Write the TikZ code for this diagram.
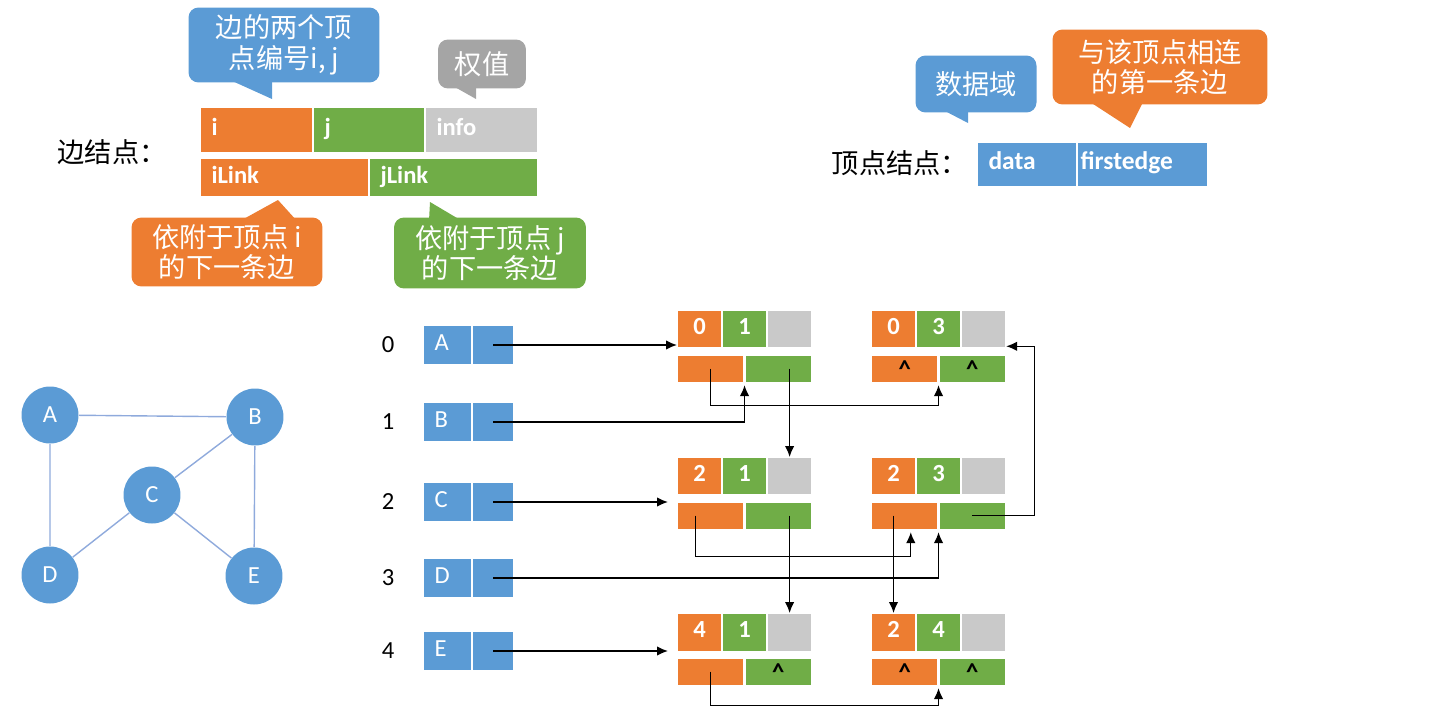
\documentclass[tikz,border=0pt]{standalone}
\usepackage{fontspec}
\setmainfont{Carlito}
\newfontfamily\cjk{Noto Sans CJK SC}
\usepackage{xcolor}
\definecolor{nodeblue}{RGB}{91,155,213}
\definecolor{iorange}{RGB}{237,125,49}
\definecolor{jgreen}{RGB}{112,173,71}
\definecolor{infogray}{RGB}{201,201,201}
\definecolor{tipgray}{RGB}{165,165,165}
\definecolor{graphline}{RGB}{143,170,220}
\usepackage{tikz}
\usetikzlibrary{arrows.meta,positioning,calc}

% one edge node of the multilist: i | j | info over ilink | jlink
\newcommand{\edgenode}[6]{%
  \node[scell, fill=iorange, anchor=north west] (#1i) at (#2) {#3};
  \node[scell, fill=jgreen, right=0pt of #1i] (#1j) {#4};
  \node[scell, fill=infogray, right=0pt of #1j] (#1w) {};
  \node[lcell, fill=iorange, anchor=north west] (#1l) at ($(#1i.south west)+(0,6)$) {#5};
  \node[lcell, fill=jgreen, right=0pt of #1l] (#1r) {#6};
}
\newcommand{\nilmark}{\raisebox{-0.16em}{\textasciicircum}}

\begin{document}
\begin{tikzpicture}[x=0.02cm, y=-0.02cm,
    cell/.style={rectangle, draw=white, line width=0.6pt, inner sep=0pt,
                 text height=1.6ex, text depth=0.3ex,
                 font=\fontsize{14}{16}\selectfont\bfseries},
    bcell/.style={cell, text=white, inner xsep=0.22cm, align=left},
    scell/.style={cell, text=white, minimum width=0.88cm, minimum height=0.75cm},
    lcell/.style={cell, text=black, minimum width=1.33cm, minimum height=0.54cm},
    vcell/.style={cell, fill=nodeblue, text=white, minimum height=0.77cm,
                  font=\fontsize{14}{16}\selectfont},
    vert/.style={circle, fill=nodeblue, text=white, minimum size=1.14cm,
                 inner sep=0pt, font=\fontsize{14}{16}\selectfont},
    link/.style={graphline, line width=0.8pt},
    bubble/.style={rounded corners=0.2cm, text=white, align=center, inner sep=0pt,
                   font=\cjk\fontsize{15.5}{17.4}\selectfont},
    lbl/.style={font=\cjk\fontsize{15.5}{17.4}\selectfont},
    arr/.style={-{Latex[length=0.22cm,width=0.19cm]}, line width=0.8pt},
  ]
  \useasboundingbox (0,0) rectangle (1430,720);

  % edge node layout
  \node[lbl] (elbl) at (112,152) {边结点：};
  \node[bcell, fill=iorange, text width=1.8cm, minimum height=0.9cm, anchor=north west] (bi) at (200,107) {i};
  \node[bcell, fill=jgreen, text width=1.78cm, minimum height=0.9cm, right=0pt of bi] (bj) {j};
  \node[bcell, fill=infogray, text width=1.8cm, minimum height=0.9cm, right=0pt of bj] (bw) {info};
  \node[bcell, fill=iorange, text width=2.92cm, minimum height=0.76cm, anchor=north west] (bl) at ($(bi.south west)+(0,5)$) {iLink};
  \node[bcell, fill=jgreen, text width=2.92cm, minimum height=0.76cm, right=0pt of bl] (br) {jLink};

  \node[bubble, fill=nodeblue, minimum width=3.82cm, minimum height=1.5cm] (c1) at (284,45) {边的两个顶\\点编号i, j};
  \fill[nodeblue] (230,80) -- (272,99) -- (272,80) -- cycle;
  \node[bubble, fill=tipgray, minimum width=1.76cm, minimum height=0.98cm] (c2) at (482,64) {权值};
  \fill[tipgray] (453,86) -- (476,99) -- (476,86) -- cycle;
  \node[bubble, fill=iorange, minimum width=3.82cm, minimum height=1.38cm] (c3) at (227,252) {依附于顶点 i\\的下一条边};
  \fill[iorange] (240,221) -- (278,200) -- (297,221) -- cycle;
  \node[bubble, fill=jgreen, minimum width=3.84cm, minimum height=1.42cm] (c4) at (490,253) {依附于顶点 j\\的下一条边};
  \fill[jgreen] (429,221) -- (430,202) -- (462,221) -- cycle;

  % vertex node layout
  \node[lbl] (vlbl) at (900,163) {顶点结点：};
  \node[vcell, font=\fontsize{14.5}{16}\selectfont\bfseries, inner xsep=0.22cm, text width=1.54cm,
        align=left, minimum height=0.88cm, anchor=north west] (vd) at (977,142) {data};
  \node[vcell, font=\fontsize{14.5}{16}\selectfont\bfseries, inner xsep=0.06cm, text width=2.48cm,
        align=left, minimum height=0.88cm, right=0pt of vd] (vf) {firstedge};
  \node[bubble, fill=nodeblue, minimum width=2.42cm, minimum height=1.14cm] (c5) at (976,84) {数据域};
  \fill[nodeblue] (943,110) -- (968,123) -- (968,110) -- cycle;
  \node[bubble, fill=iorange, minimum width=4.3cm, minimum height=1.5cm] (c6) at (1160,67) {与该顶点相连\\的第一条边};
  \fill[iorange] (1090,102) -- (1130,128) -- (1143,102) -- cycle;

  % the graph
  \node[vert] (A) at (50,415) {A};
  \node[vert] (B) at (255,417) {B};
  \node[vert] (C) at (152,495) {C};
  \node[vert] (D) at (50,575) {D};
  \node[vert] (E) at (254,576) {E};
  \draw[link] (A) -- (B) (A) -- (D) (B) -- (C) (B) -- (E) (C) -- (D) (C) -- (E);

  % adjacency multilist
  \foreach \n/\v/\y in {0/A/345, 1/B/422, 2/C/502, 3/D/578, 4/E/651} {
    \node[vcell, inner xsep=0.22cm, text width=0.52cm, align=left, anchor=west] (d\n) at (423,\y) {\v};
    \node[vcell, minimum width=0.82cm, right=0pt of d\n] (p\n) {};
    \node[font=\fontsize{14}{16}\selectfont] (n\n) at (388,\y) {\n};
  }
  \edgenode{e01}{677,310}{0}{1}{}{}
  \edgenode{e03}{871,310}{0}{3}{\nilmark}{\nilmark}
  \edgenode{e21}{677,457}{2}{1}{}{}
  \edgenode{e23}{871,457}{2}{3}{}{}
  \edgenode{e41}{677,613}{4}{1}{}{\nilmark}
  \edgenode{e24}{871,613}{2}{4}{\nilmark}{\nilmark}

  \draw[arr] (p0.center) -- (p0.center -| e01i.west);
  \draw[arr, shorten >=0.05cm] (p1.center) -| (e01l.south east);
  \draw[arr, shorten >=0.05cm] (e01l.center) -- ++(0,37) -| (e03l.south east);
  \draw[arr] (e01r.center -| e01w.center) -- (e21w.north);
  \draw[arr] (e23r.center) -- ++(62,0) |- ([yshift=-0.34cm]e03w.east);
  \draw[arr, shorten >=0.18cm] (p2.center) -- (p2.center -| e21l.west);
  \draw[arr, shorten >=0.05cm] ([xshift=-0.3cm]e21l.center) -- ++(0,41) -| ([xshift=0.12cm]e23l.south);
  \draw[arr, shorten >=0.05cm] (p3.center) -| (e23l.south east);
  \draw[arr] (e21r.center -| e21w.center) -- (e41w.north);
  \draw[arr] (e23l.center -| e24i.north) -- (e24i.north);
  \draw[arr, shorten >=0.18cm] (p4.center) -- (p4.center -| e41l.west);
  \draw[arr, shorten >=0.05cm] (e41l.center) -- ++(0,34) -| (e24l.south east);
\end{tikzpicture}
\end{document}
